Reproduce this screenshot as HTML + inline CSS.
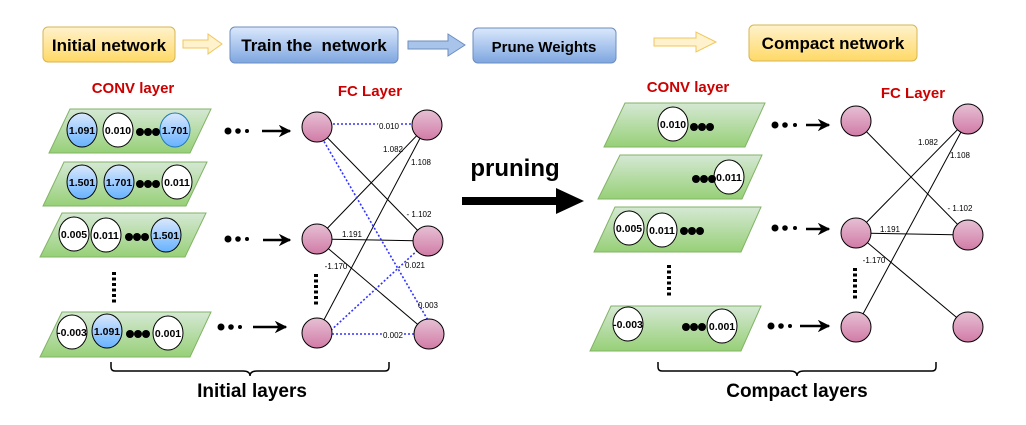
<!DOCTYPE html>
<html><head><meta charset="utf-8"><style>
html,body{margin:0;padding:0;background:#fff;}
svg{display:block;font-family:"Liberation Sans",Arial,sans-serif;}
</style></head><body>
<svg width="1026" height="425" viewBox="0 0 1026 425" xmlns="http://www.w3.org/2000/svg">
<defs>
<linearGradient id="yel" x1="0" y1="0" x2="0" y2="1"><stop offset="0" stop-color="#fff2cc"/><stop offset="1" stop-color="#ffd966"/></linearGradient>
<linearGradient id="blu" x1="0" y1="0" x2="0" y2="1"><stop offset="0" stop-color="#dae8fc"/><stop offset="1" stop-color="#7ea6e0"/></linearGradient>
<linearGradient id="grn" x1="0" y1="0" x2="0" y2="1"><stop offset="0" stop-color="#d5e8d4"/><stop offset="1" stop-color="#97d077"/></linearGradient>
<linearGradient id="pnk" x1="0" y1="0" x2="0" y2="1"><stop offset="0" stop-color="#e6c0d4"/><stop offset="1" stop-color="#d17ba6"/></linearGradient>
<linearGradient id="cb" x1="0" y1="0" x2="0" y2="1"><stop offset="0" stop-color="#dae8fc"/><stop offset="1" stop-color="#66b2ff"/></linearGradient>
<marker id="ah" viewBox="0 0 10 10" refX="9" refY="5" markerWidth="5" markerHeight="5" orient="auto"><path d="M0,0 L10,5 L0,10 L3,5 z" fill="#000"/></marker>
</defs>

<rect x="43" y="27" width="132" height="35" rx="5" fill="url(#yel)" stroke="#d6b656"/>
<text x="109" y="51" font-size="17" font-weight="bold" text-anchor="middle">Initial network</text>
<polygon points="183,40 208,40 208,34 222,44 208,54 208,48 183,48" fill="#fff2cc" stroke="#f0c75e"/>
<rect x="230" y="27" width="168" height="36" rx="5" fill="url(#blu)" stroke="#6c8ebf"/>
<text x="314" y="51" font-size="17" font-weight="bold" text-anchor="middle" xml:space="preserve">Train the  network</text>
<polygon points="408,41 448,41 448,34 465,45 448,56 448,49 408,49" fill="#a9c4eb" stroke="#6c8ebf"/>
<rect x="473" y="28" width="143" height="35" rx="5" fill="url(#blu)" stroke="#6c8ebf"/>
<text x="544" y="52" font-size="15" font-weight="bold" text-anchor="middle">Prune Weights</text>
<polygon points="654,38 696,38 696,32 716,42 696,52 696,46 654,46" fill="#fff2cc" stroke="#f0c75e"/>
<rect x="749" y="25" width="168" height="36" rx="5" fill="url(#yel)" stroke="#d6b656"/>
<text x="833" y="49" font-size="17" font-weight="bold" text-anchor="middle">Compact network</text>

<text x="133" y="93" font-size="15" font-weight="bold" fill="#cc0000" text-anchor="middle">CONV layer</text>
<text x="370" y="96" font-size="15" font-weight="bold" fill="#cc0000" text-anchor="middle">FC Layer</text>

<g stroke="#82b366" fill="url(#grn)">
<polygon points="70,109 211,109 190,153 49,153"/>
<polygon points="64,162 207,162 186,206 43,206"/>
<polygon points="62,213 206,213 185,257 40,257"/>
<polygon points="62,312 211,312 190,357 40,357"/>
</g>
<g font-size="10.5" font-weight="bold" text-anchor="middle">
<g stroke="#000">
<ellipse cx="82" cy="130" rx="15" ry="17" fill="url(#cb)"/>
<ellipse cx="118" cy="130" rx="15" ry="17" fill="#fff"/>
<ellipse cx="175" cy="130" rx="15" ry="17" fill="url(#cb)" stroke="#1f78b4"/>
<ellipse cx="82" cy="182" rx="15" ry="17" fill="url(#cb)"/>
<ellipse cx="119" cy="182" rx="15" ry="17" fill="url(#cb)"/>
<ellipse cx="177" cy="182" rx="15" ry="17" fill="#fff"/>
<ellipse cx="74" cy="234" rx="15" ry="17" fill="#fff"/>
<ellipse cx="106" cy="235" rx="15" ry="17" fill="#fff"/>
<ellipse cx="166" cy="235" rx="15" ry="17" fill="url(#cb)"/>
<ellipse cx="72" cy="332" rx="15" ry="17" fill="#fff"/>
<ellipse cx="107" cy="331" rx="15" ry="17" fill="url(#cb)"/>
<ellipse cx="168" cy="333" rx="15" ry="17" fill="#fff"/>
</g>
<text x="82" y="134">1.091</text><text x="118" y="134">0.010</text><text x="175" y="134">1.701</text>
<text x="82" y="186">1.501</text><text x="119" y="186">1.701</text><text x="177" y="186">0.011</text>
<text x="74" y="238">0.005</text><text x="106" y="239">0.011</text><text x="166" y="239">1.501</text>
<text x="72" y="336">-0.003</text><text x="107" y="335">1.091</text><text x="168" y="337">0.001</text>
</g>
<g fill="#000">
<circle cx="140" cy="132" r="4"/><circle cx="148" cy="132" r="4"/><circle cx="156" cy="132" r="4"/>
<circle cx="140" cy="184" r="4"/><circle cx="148" cy="184" r="4"/><circle cx="156" cy="184" r="4"/>
<circle cx="129" cy="237" r="4"/><circle cx="137" cy="237" r="4"/><circle cx="145" cy="237" r="4"/>
<circle cx="130" cy="334" r="4"/><circle cx="138" cy="334" r="4"/><circle cx="146" cy="334" r="4"/>
</g>
<line x1="114" y1="272" x2="114" y2="303" stroke="#000" stroke-width="4" stroke-dasharray="3,2.5"/>

<g fill="#000">
<circle cx="228" cy="131" r="3.5"/><circle cx="238" cy="131" r="2.8"/><circle cx="247" cy="131" r="2"/>
<circle cx="228" cy="239" r="3.5"/><circle cx="238" cy="239" r="2.8"/><circle cx="247" cy="239" r="2"/>
<circle cx="221" cy="327" r="3.5"/><circle cx="231" cy="327" r="2.8"/><circle cx="240" cy="327" r="2"/>
</g>
<g stroke="#000" stroke-width="2.5" marker-end="url(#ah)">
<line x1="262" y1="131" x2="290" y2="131"/>
<line x1="263" y1="240" x2="290" y2="240"/>
<line x1="253" y1="327" x2="286" y2="327"/>
</g>

<g stroke="#000" stroke-width="1">
<line x1="317" y1="127" x2="428" y2="241"/>
<line x1="317" y1="239" x2="427" y2="125"/>
<line x1="317" y1="333" x2="427" y2="125"/>
<line x1="317" y1="239" x2="428" y2="241"/>
<line x1="317" y1="239" x2="429" y2="334"/>
</g>
<g stroke="#3333ff" stroke-width="1.6" stroke-dasharray="2,2">
<line x1="317" y1="124" x2="427" y2="124"/>
<line x1="322" y1="138" x2="429" y2="322"/>
<line x1="328" y1="333" x2="420" y2="248"/>
<line x1="328" y1="334" x2="429" y2="334"/>
</g>
<g stroke="#000" fill="url(#pnk)">
<circle cx="317" cy="127" r="15"/><circle cx="427" cy="125" r="15"/>
<circle cx="317" cy="239" r="15"/><circle cx="428" cy="241" r="15"/>
<circle cx="317" cy="333" r="15"/><circle cx="429" cy="334" r="15"/>
</g>
<g font-size="8" text-anchor="middle">
<text x="389" y="129" style="paint-order:stroke" stroke="#fff" stroke-width="3">0.010</text>
<text x="393" y="152">1.082</text>
<text x="421" y="165">1.108</text>
<text x="419" y="217">- 1.102</text>
<text x="352" y="237">1.191</text>
<text x="415" y="268">0.021</text>
<text x="336" y="269">-1.170</text>
<text x="428" y="308">0.003</text>
<text x="393" y="338" style="paint-order:stroke" stroke="#fff" stroke-width="3">0.002</text>
</g>
<line x1="316" y1="274" x2="316" y2="306" stroke="#000" stroke-width="4" stroke-dasharray="3,2.5"/>

<path d="M111,362 v5 q0,4 4,4 h128 q7,0 7,5 q0,-5 7,-5 h128 q4,0 4,-4 v-5" fill="none" stroke="#000" stroke-width="1.5"/>
<text x="252" y="397" font-size="19" font-weight="bold" text-anchor="middle">Initial layers</text>

<text x="515" y="176" font-size="24" font-weight="bold" text-anchor="middle">pruning</text>
<line x1="462" y1="201" x2="560" y2="201" stroke="#000" stroke-width="8"/>
<polygon points="556,188 584,201 556,214" fill="#000"/>

<text x="688" y="92" font-size="15" font-weight="bold" fill="#cc0000" text-anchor="middle">CONV layer</text>
<text x="913" y="98" font-size="15" font-weight="bold" fill="#cc0000" text-anchor="middle">FC Layer</text>

<g stroke="#82b366" fill="url(#grn)">
<polygon points="625,103 765,103 745,147 604,147"/>
<polygon points="620,155 762,155 742,199 598,199"/>
<polygon points="615,207 761,207 741,252 594,252"/>
<polygon points="611,306 761,306 741,351 590,351"/>
</g>
<g font-size="10.5" font-weight="bold" text-anchor="middle">
<g stroke="#000" fill="#fff">
<ellipse cx="673" cy="124" rx="15" ry="17"/>
<ellipse cx="729" cy="177" rx="15" ry="17"/>
<ellipse cx="629" cy="228" rx="15" ry="17"/>
<ellipse cx="662" cy="230" rx="15" ry="17"/>
<ellipse cx="628" cy="324" rx="15" ry="17"/>
<ellipse cx="722" cy="326" rx="15" ry="17"/>
</g>
<text x="673" y="128">0.010</text><text x="729" y="181">0.011</text>
<text x="629" y="232">0.005</text><text x="662" y="234">0.011</text>
<text x="628" y="328">-0.003</text><text x="722" y="330">0.001</text>
</g>
<g fill="#000">
<circle cx="694" cy="127" r="4"/><circle cx="702" cy="127" r="4"/><circle cx="710" cy="127" r="4"/>
<circle cx="696" cy="179" r="4"/><circle cx="704" cy="179" r="4"/><circle cx="712" cy="179" r="4"/>
<circle cx="684" cy="231" r="4"/><circle cx="692" cy="231" r="4"/><circle cx="700" cy="231" r="4"/>
<circle cx="686" cy="327" r="4"/><circle cx="694" cy="327" r="4"/><circle cx="702" cy="327" r="4"/>
</g>
<line x1="669" y1="265" x2="669" y2="298" stroke="#000" stroke-width="4" stroke-dasharray="3,2.5"/>

<g fill="#000">
<circle cx="775" cy="125" r="3.5"/><circle cx="785" cy="125" r="2.8"/><circle cx="795" cy="125" r="2"/>
<circle cx="775" cy="228" r="3.5"/><circle cx="785" cy="228" r="2.8"/><circle cx="795" cy="228" r="2"/>
<circle cx="771" cy="326" r="3.5"/><circle cx="781" cy="326" r="2.8"/><circle cx="790" cy="326" r="2"/>
</g>
<g stroke="#000" stroke-width="2.5" marker-end="url(#ah)">
<line x1="806" y1="125" x2="829" y2="125"/>
<line x1="806" y1="229" x2="829" y2="229"/>
<line x1="800" y1="326" x2="829" y2="326"/>
</g>

<g stroke="#000" stroke-width="1">
<line x1="856" y1="121" x2="968" y2="235"/>
<line x1="856" y1="233" x2="968" y2="119"/>
<line x1="856" y1="327" x2="968" y2="119"/>
<line x1="856" y1="233" x2="968" y2="235"/>
<line x1="856" y1="233" x2="968" y2="327"/>
</g>
<g stroke="#000" fill="url(#pnk)">
<circle cx="856" cy="121" r="15"/><circle cx="968" cy="119" r="15"/>
<circle cx="856" cy="233" r="15"/><circle cx="968" cy="235" r="15"/>
<circle cx="856" cy="327" r="15"/><circle cx="968" cy="327" r="15"/>
</g>
<g font-size="8" text-anchor="middle">
<text x="928" y="145">1.082</text>
<text x="960" y="158">1.108</text>
<text x="960" y="211">- 1.102</text>
<text x="890" y="232">1.191</text>
<text x="874" y="263">-1.170</text>
</g>
<line x1="855" y1="268" x2="855" y2="300" stroke="#000" stroke-width="4" stroke-dasharray="3,2.5"/>

<path d="M658,362 v5 q0,4 4,4 h128 q7,0 7,5 q0,-5 7,-5 h128 q4,0 4,-4 v-5" fill="none" stroke="#000" stroke-width="1.5"/>
<text x="797" y="397" font-size="19" font-weight="bold" text-anchor="middle">Compact layers</text>
</svg>
</body></html>
